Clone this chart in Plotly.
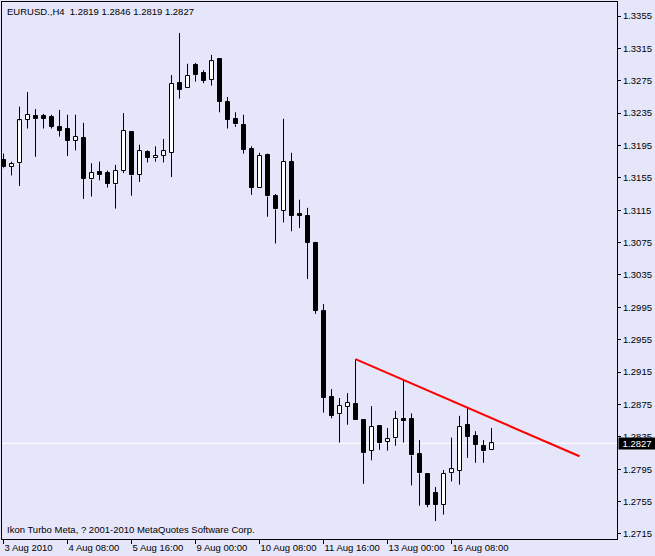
import plotly.graph_objects as go

# ---- data (EURUSD H4) ----
opens = [1.3177, 1.3169, 1.3173, 1.3227, 1.3231, 1.3231, 1.3230, 1.3218, 1.3215, 1.3201,
         1.3204, 1.3153, 1.3162, 1.3161, 1.3147, 1.3164, 1.3212, 1.3159, 1.3187, 1.3179,
         1.3182, 1.3186, 1.3272, 1.3266, 1.3294, 1.3285, 1.3276, 1.3302, 1.3249, 1.3228,
         1.3220, 1.3191, 1.3142, 1.3183, 1.3133, 1.3114, 1.3175, 1.3110, 1.3108, 1.3075,
         1.2991, 1.2884, 1.2863, 1.2872, 1.2876, 1.2856, 1.2818, 1.2848, 1.2829, 1.2833,
         1.2857, 1.2857, 1.2814, 1.2789, 1.2766, 1.2751, 1.2790, 1.2793, 1.2850, 1.2836,
         1.2824, 1.2819]
highs = [1.3185, 1.3175, 1.3243, 1.3261, 1.3240, 1.3234, 1.3233, 1.3239, 1.3233, 1.3233,
         1.3223, 1.3173, 1.3175, 1.3164, 1.3171, 1.3235, 1.3213, 1.3196, 1.3189, 1.3194,
         1.3203, 1.3282, 1.3334, 1.3296, 1.3297, 1.3288, 1.3307, 1.3302, 1.3255, 1.3236,
         1.3233, 1.3194, 1.3186, 1.3185, 1.3135, 1.3228, 1.3186, 1.3128, 1.3118, 1.3076,
         1.2999, 1.2894, 1.2883, 1.2889, 1.2931, 1.2857, 1.2873, 1.2848, 1.2846, 1.2867,
         1.2906, 1.2864, 1.2831, 1.2789, 1.2773, 1.2794, 1.2834, 1.2861, 1.2872, 1.2842,
         1.2831, 1.2846]
lows = [1.3167, 1.3158, 1.3145, 1.3216, 1.3181, 1.3216, 1.3216, 1.3206, 1.3182, 1.3189,
        1.3129, 1.3132, 1.3152, 1.3143, 1.3117, 1.3161, 1.3133, 1.3150, 1.3174, 1.3175,
        1.3174, 1.3156, 1.3253, 1.3266, 1.3274, 1.3272, 1.3269, 1.3236, 1.3216, 1.3218,
        1.3185, 1.3134, 1.3142, 1.3107, 1.3074, 1.3100, 1.3089, 1.3093, 1.3030, 1.2987,
        1.2865, 1.2858, 1.2828, 1.2850, 1.2856, 1.2777, 1.2806, 1.2819, 1.2818, 1.2824,
        1.2828, 1.2775, 1.2750, 1.2748, 1.2731, 1.2739, 1.2780, 1.2776, 1.2809, 1.2803,
        1.2803, 1.2819]
closes = [1.3168, 1.3172, 1.3226, 1.3233, 1.3228, 1.3228, 1.3218, 1.3213, 1.3201, 1.3206,
          1.3154, 1.3161, 1.3159, 1.3148, 1.3164, 1.3213, 1.3158, 1.3188, 1.3180, 1.3182,
          1.3188, 1.3271, 1.3264, 1.3281, 1.3282, 1.3275, 1.3299, 1.3249, 1.3227, 1.3221,
          1.3190, 1.3143, 1.3182, 1.3132, 1.3116, 1.3175, 1.3108, 1.3108, 1.3075, 1.2991,
          1.2883, 1.2861, 1.2873, 1.2877, 1.2856, 1.2815, 1.2847, 1.2827, 1.2832, 1.2857,
          1.2855, 1.2812, 1.2790, 1.2751, 1.2751, 1.2789, 1.2795, 1.2847, 1.2835, 1.2825,
          1.2817, 1.2827]

tick_pos = [0, 8, 16, 24, 32, 40, 48, 56]
tick_labels = ["3 Aug 2010", "4 Aug 08:00", "5 Aug 16:00", "9 Aug 00:00",
               "10 Aug 08:00", "11 Aug 16:00", "13 Aug 00:00", "16 Aug 08:00"]
price_ticks = [1.2715, 1.2755, 1.2795, 1.2835, 1.2875, 1.2915, 1.2955, 1.2995, 1.3035,
               1.3075, 1.3115, 1.3155, 1.3195, 1.3235, 1.3275, 1.3315, 1.3355]

trend_x = [44, 72]
trend_y = [1.2931, 1.2811]

title_text = "EURUSD.,H4  1.2819 1.2846 1.2819 1.2827"
footer_text = "Ikon Turbo Meta, ? 2001-2010 MetaQuotes Software Corp."

# ---- build ----
BG = "#E6E6FA"
FONT = "Liberation Sans"
FS = 9.5

n = len(opens)
idx = list(range(n))

body_base = [min(o, c) for o, c in zip(opens, closes)]
body_h = [max(abs(c - o), 0.00002) for o, c in zip(opens, closes)]
body_col = ["white" if c > o else "black" for o, c in zip(opens, closes)]

wx, wy = [], []
for i, o, h, l, c in zip(idx, opens, highs, lows, closes):
    top, bot = max(o, c), min(o, c)
    wx += [i, i, None, i, i, None]
    wy += [h, top, None, bot, l, None]

fig = go.Figure()
fig.add_trace(go.Bar(x=idx, y=body_h, base=body_base, width=0.5,
                     marker=dict(color=body_col, line=dict(color="black", width=1)),
                     hoverinfo="skip", showlegend=False))
fig.add_trace(go.Scatter(x=wx, y=wy, mode="lines",
                         line=dict(color="black", width=1),
                         hoverinfo="skip", showlegend=False))
fig.add_trace(go.Scatter(x=trend_x, y=trend_y, mode="lines",
                         line=dict(color="#FF0000", width=2),
                         hoverinfo="skip", showlegend=False))

fig.add_shape(type="line", xref="paper", x0=0, x1=1, yref="y",
              y0=closes[-1], y1=closes[-1], line=dict(color="white", width=1),
              layer="below")

fig.add_annotation(xref="paper", yref="y", x=1, y=closes[-1], xanchor="left",
                   yanchor="middle", xshift=1, text=f"{closes[-1]:.4f}",
                   showarrow=False, bgcolor="black", borderpad=0, width=36, height=11,
                   align="center", font=dict(family=FONT, size=FS, color="white"))
fig.add_annotation(xref="paper", yref="paper", x=0, y=1, xanchor="left", yanchor="top",
                   xshift=3, yshift=-2, text=title_text, showarrow=False,
                   font=dict(family=FONT, size=FS, color="black"))
fig.add_annotation(xref="paper", yref="paper", x=0, y=0, xanchor="left", yanchor="bottom",
                   xshift=3, yshift=2, text=footer_text, showarrow=False,
                   font=dict(family=FONT, size=FS, color="black"))

fig.update_layout(
    width=655, height=556,
    margin=dict(l=2, r=38, t=2, b=17, autoexpand=False),
    paper_bgcolor=BG, plot_bgcolor=BG,
    barmode="overlay", bargap=0,
    font=dict(family=FONT, size=FS, color="black"),
    xaxis=dict(range=[-0.1875, 76.6875], tickvals=tick_pos, ticktext=tick_labels,
               ticks="outside", ticklen=4, tickcolor="black", showgrid=False,
               zeroline=False, showline=True, linecolor="black", linewidth=1,
               mirror=True, ticklabelposition="outside right", tickangle=0,
               automargin=False, fixedrange=True),
    yaxis=dict(range=[1.27088, 1.33723], side="right", tickvals=price_ticks,
               tickformat=".4f", ticks="outside", ticklen=3, tickcolor="black",
               showgrid=False, zeroline=False, showline=True, linecolor="black",
               linewidth=1, mirror=True, automargin=False, fixedrange=True),
)

fig.write_html("out.html", config={"displayModeBar": False},
               post_script="document.body.style.margin='0';"
                           "document.body.style.overflow='hidden';"
                           f"document.body.style.background='{BG}';")
